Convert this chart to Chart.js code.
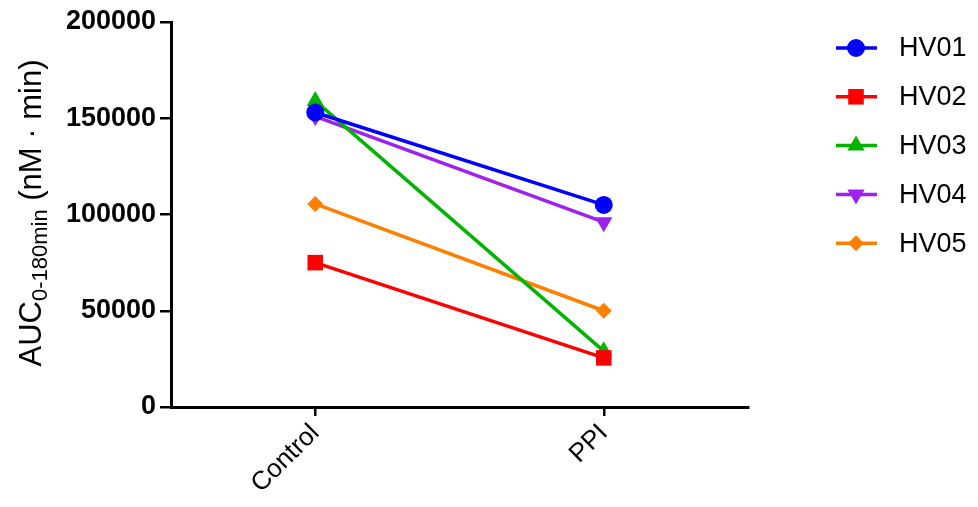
<!DOCTYPE html>
<html>
<head>
<meta charset="utf-8">
<script src="https://cdn.jsdelivr.net/npm/chart.js@4"></script>
<style>
  html, body { margin: 0; padding: 0; background: #fff; }
  #wrap { width: 978px; height: 507px; }
</style>
</head>
<body>
<div id="wrap"><canvas id="grafico" width="978" height="507"></canvas></div>
<script>
// datos
const grupos = ["Control", "PPI"];
const hv01 = [153000, 105000];
const hv02 = [75000, 25500];
const hv03 = [159000, 29000];
const hv04 = [151000, 96000];
const hv05 = [105500, 50000];
const ticksY = [0, 50000, 100000, 150000, 200000];

const fuente = "'Liberation Sans', Arial, sans-serif";

function serie(label, data, color, estilo, radio, rot) {
    return {
        label: label,
        data: data,
        borderColor: color,
        backgroundColor: color,
        borderWidth: 3.5,
        pointStyle: estilo,
        pointRadius: radio,
        pointHoverRadius: radio,
        pointRotation: rot || 0,
        pointBorderWidth: 0,
        fill: false,
        tension: 0
    };
}

// leyenda a la derecha con linea + marcador
const leyenda = {
    id: "leyenda",
    afterDraw(chart) {
        const ctx = chart.ctx;
        ctx.save();
        chart.data.datasets.forEach((ds, i) => {
            const y = 48 + i * 48.8;
            ctx.strokeStyle = ds.borderColor;
            ctx.lineWidth = 3.5;
            ctx.beginPath();
            ctx.moveTo(836, y);
            ctx.lineTo(877, y);
            ctx.stroke();
            ctx.fillStyle = ds.backgroundColor;
            Chart.helpers.drawPoint(ctx, {
                pointStyle: ds.pointStyle,
                radius: ds.pointRadius,
                rotation: ds.pointRotation,
                borderWidth: 0
            }, 856, y);
            ctx.fillStyle = "#000";
            ctx.font = "27px " + fuente;
            ctx.textBaseline = "middle";
            ctx.textAlign = "left";
            ctx.fillText(ds.label, 899, y + 1);
        });

        // titulo eje Y con subindice
        ctx.translate(30, 213);
        ctx.rotate(-Math.PI / 2);
        ctx.fillStyle = "#000";
        ctx.textBaseline = "alphabetic";
        const p1 = "AUC", p2 = "0-180min", p3 = " (nM \u00b7 min)";
        ctx.font = "31px " + fuente;
        const w1 = ctx.measureText(p1).width;
        const w3 = ctx.measureText(p3).width;
        ctx.font = "22px " + fuente;
        const w2 = ctx.measureText(p2).width;
        let x = -(w1 + w2 + w3) / 2;
        ctx.font = "31px " + fuente;
        ctx.fillText(p1, x, 11);
        x += w1;
        ctx.font = "22px " + fuente;
        ctx.fillText(p2, x, 17);
        x += w2;
        ctx.font = "31px " + fuente;
        ctx.fillText(p3, x, 11);
        ctx.restore();
    }
};

new Chart(document.getElementById("grafico"), {
    type: "line",
    data: {
        labels: grupos,
        datasets: [
            serie("HV01", hv01, "#0000ff", "circle", 9),
            serie("HV02", hv02, "#ff0000", "rect", 11),
            serie("HV03", hv03, "#00b400", "triangle", 10),
            serie("HV04", hv04, "#a020f0", "triangle", 10, 180),
            serie("HV05", hv05, "#ff8000", "rectRot", 8)
        ]
    },
    options: {
        responsive: false,
        animation: false,
        layout: { padding: { top: 22, right: 230, left: 0, bottom: 0 } },
        plugins: {
            legend: { display: false },
            tooltip: { enabled: false }
        },
        scales: {
            x: {
                offset: true,
                grid: {
                    offset: false,
                    drawOnChartArea: false,
                    drawTicks: true,
                    tickLength: 9,
                    color: "#000",
                    lineWidth: 2.5
                },
                border: { color: "#000", width: 3 },
                ticks: {
                    color: "#000",
                    font: { family: fuente, size: 26 },
                    maxRotation: 45,
                    minRotation: 45,
                    padding: 2
                },
                afterFit(scale) { scale.height = 100; }
            },
            y: {
                min: 0,
                max: 200000,
                afterBuildTicks(scale) { scale.ticks = ticksY.map(v => ({ value: v })); },
                grid: {
                    drawOnChartArea: false,
                    drawTicks: true,
                    tickLength: 11,
                    color: "#000",
                    lineWidth: 2.5
                },
                border: { color: "#000", width: 3 },
                ticks: {
                    color: "#000",
                    font: { family: fuente, size: 27, weight: "bold" },
                    padding: 4,
                    callback: v => String(v)
                },
                afterFit(scale) { scale.width = 171; }
            }
        }
    },
    plugins: [leyenda]
});
</script>
</body>
</html>
